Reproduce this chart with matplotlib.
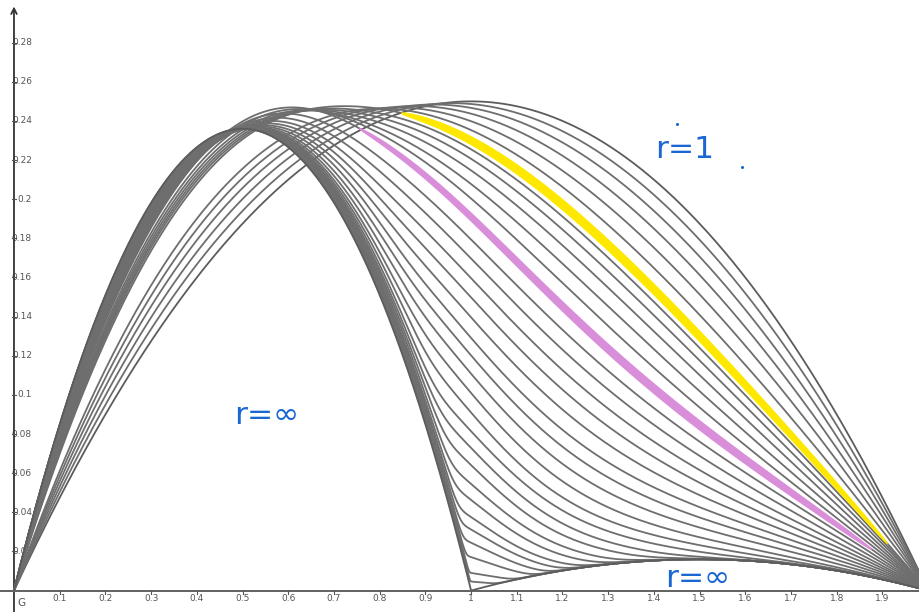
import numpy as np
import matplotlib.pyplot as plt

# one entry per drawn curve, ordered from r=1 (first) to r=inf (last).
# each curve is y = x(2-x) * smoothmax(bell(x; ell), hump(x), G(x)),
# G(x) = lo + hi / (1 + exp((x - mid) / width)); bell only where ell > 0
lo_vals = [0.25, 0.225, 0.2, 0.175, 0.15, 0.125, 0.10, 0.0967, 0.0933, 0.09,
           0.0867, 0.0833, 0.08, 0.074, 0.068, 0.062, 0.057, 0.052, 0.047, 0.042,
           0.037, 0.032, 0.028, 0.024, 0.020, 0.017, 0.014, 0.012, 0.010, 0.008,
           0.006, 0.0045, 0.003, 0.0015, 0.0]
hi_vals = [0.0, 0.05, 0.10, 0.15, 0.20, 0.25, 0.30, 0.303, 0.307, 0.31,
           0.313, 0.317, 0.32, 0.3107, 0.2993, 0.2868, 0.272, 0.2562, 0.2394, 0.2214,
           0.2022, 0.1816, 0.1583, 0.1332, 0.1175, 0.0997, 0.081, 0.0661, 0.0507, 0.041,
           0.0312, 0.0203, 0.0092, 0.00465, 0.0]
mid_vals = [1.0, 0.935, 0.92, 0.90, 0.88, 0.862, 0.845, 0.837, 0.828, 0.82,
            0.811, 0.803, 0.794, 0.80, 0.814, 0.828, 0.842, 0.856, 0.87, 0.888,
            0.906, 0.924, 0.942, 0.964, 0.976, 0.988, 1.0, 1.007, 1.014, 1.02,
            1.026, 1.032, 1.038, 1.039, 1.04]
width_vals = [0.6, 0.6, 0.6, 0.595, 0.59, 0.585, 0.58, 0.54, 0.50, 0.455,
              0.41, 0.368, 0.325, 0.30, 0.28, 0.26, 0.24, 0.22, 0.20, 0.185,
              0.17, 0.155, 0.14, 0.13, 0.12, 0.11, 0.10, 0.09, 0.08, 0.075,
              0.07, 0.065, 0.06, 0.055, 0.05]
ell_vals = [0, 0, 0, 0, 0, 0, 1.25, 1.23, 1.215, 1.2,
            1.185, 1.17, 1.15, 1.13, 1.115, 1.10, 1.09, 1.08, 1.07, 1.06,
            1.052, 1.045, 1.04, 1.035, 1.03, 1.026, 1.022, 1.018, 1.015, 1.012,
            1.009, 1.007, 1.005, 1.003, 1.0]

# r=inf curve: 0.944 x(1-x) on [0,1], 0.064 (x-1)(2-x) on [1,2]
INF_LEFT, INF_RIGHT = 0.944, 0.064

# highlighted pieces (curve index, x-range)
yellow_idx, yellow_span = 6, (0.845, 1.912)
purple_idx, purple_span = 12, (0.753, 1.877)

x_ticks = [0.1, 0.2, 0.3, 0.4, 0.5, 0.6, 0.7, 0.8, 0.9, 1.0,
           1.1, 1.2, 1.3, 1.4, 1.5, 1.6, 1.7, 1.8, 1.9]
x_tick_labels = ['0.1', '0.2', '0.3', '0.4', '0.5', '0.6', '0.7', '0.8', '0.9', '1',
                 '1.1', '1.2', '1.3', '1.4', '1.5', '1.6', '1.7', '1.8', '1.9']
y_ticks = [0.02, 0.04, 0.06, 0.08, 0.1, 0.12, 0.14, 0.16, 0.18, 0.2,
           0.22, 0.24, 0.26, 0.28]
y_tick_labels = ['0.02', '0.04', '0.06', '0.08', '0.1', '0.12', '0.14', '0.16',
                 '0.18', '0.2', '0.22', '0.24', '0.26', '0.28']


def curve(x, i):
    lo, ell = lo_vals[i], ell_vals[i]
    G = lo + hi_vals[i] / (1 + np.exp((x - mid_vals[i]) / width_vals[i]))
    if ell == 0:
        return x * (2 - x) * G
    bell = INF_LEFT * np.clip(ell - x, 0, None) / (ell ** 2 * np.clip(2 - x, 1e-9, None))
    hump = INF_RIGHT * np.clip(x - 1, 0, None) / np.clip(x, 1e-9, None)
    if i == len(lo_vals) - 1:
        g = np.maximum(bell, hump)
    else:
        q = 6 + 170 * lo
        g = (bell ** q + hump ** q + G ** q) ** (1 / q)
    return x * (2 - x) * g


def band(ax, i, span, h0, color):
    xs = np.linspace(span[0], span[1], 300)
    ys = curve(xs, i)
    u = (xs - span[0]) / (span[1] - span[0])
    h = h0 * np.sin(np.pi * u) ** 0.35
    ax.fill_between(xs, ys - h, ys + h, color=color, lw=0, zorder=4)


fig = plt.figure(figsize=(9.19, 6.12), dpi=100)
ax = fig.add_axes([0, 0, 1, 1])
ax.set_xlim(-0.0306, 1.980)
ax.set_ylim(-0.01094, 0.3018)
ax.axis('off')

x = np.linspace(0, 2, 1500)
n = len(lo_vals)
for i in range(n):
    col = '#5c5c5c' if i in (0, n - 1) else '#6e6e6e'
    ax.plot(x, curve(x, i), color=col, lw=1.3, zorder=3)

band(ax, yellow_idx, yellow_span, 0.0032, '#ffe800')
band(ax, purple_idx, purple_span, 0.0029, '#d98ed9')

# axes
ax.axhline(0, color='#555555', lw=1.3, zorder=2)
ax.annotate('', xy=(0, 0.2985), xytext=(0, -0.011),
            arrowprops=dict(arrowstyle='->', color='#333333', lw=1.3,
                            shrinkA=0, shrinkB=0), zorder=2)
for xt, lab in zip(x_ticks, x_tick_labels):
    ax.plot([xt, xt], [0, -0.0015], color='#555555', lw=0.8, zorder=2)
    ax.text(xt, -0.0038, lab, ha='center', va='center', fontsize=6.5,
            color='#555555', zorder=1)
for yt, lab in zip(y_ticks, y_tick_labels):
    ax.plot([-0.004, 0.004], [yt, yt], color='#555555', lw=0.8, zorder=2)
    ax.text(0.0394, yt, lab, ha='right', va='center', fontsize=6.5,
            color='#555555', zorder=1)
ax.text(0.0066, -0.0063, 'G', ha='left', va='center', fontsize=7.5,
        color='#555555')

blue = '#1a66d2'
ax.text(1.4026, 0.2211, 'r=1', color=blue, fontsize=22.5, va='baseline')
ax.text(0.4814, 0.0851, 'r=\u221e', color=blue, fontsize=22.5, va='baseline')
ax.text(1.4245, 0.0018, 'r=\u221e', color=blue, fontsize=22.5, va='baseline')
ax.plot([1.4508, 1.593], [0.2384, 0.2165], 'o', color=blue, ms=1.2)

fig.savefig('out.png', dpi=100)
